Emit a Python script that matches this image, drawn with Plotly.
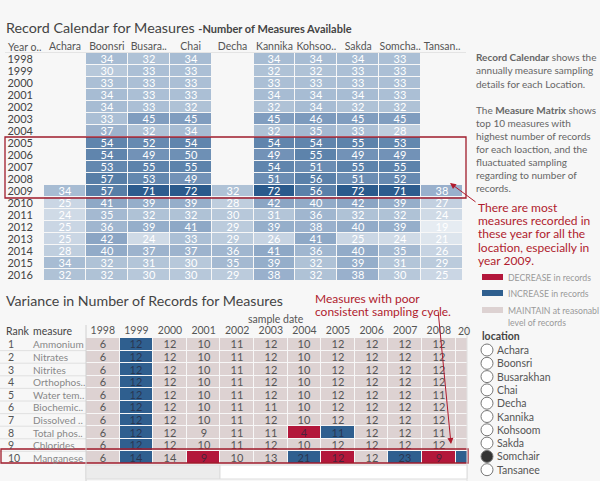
import plotly.graph_objects as go

W, H = 600, 481
def px(x): return x / W
def py(y): return 1 - y / H

FONT = "Lato"

# ---------------- data: record calendar ----------------
locations = ["Achara", "Boonsri", "Busara..", "Chai", "Decha", "Kannika", "Kohsoo..", "Sakda", "Somcha..", "Tansan.."]
years = list(range(1998, 2017))
N = None
calendar = [
    [N, 34, 32, 34, N, 34, 34, 34, 33, N],
    [N, 30, 33, 33, N, 32, 32, 33, 33, N],
    [N, 33, 33, 33, N, 33, 33, 33, 33, N],
    [N, 34, 33, 33, N, 34, 34, 34, 33, N],
    [N, 34, 33, 32, N, 32, 34, 32, 32, N],
    [N, 33, 45, 45, N, 45, 46, 45, 45, N],
    [N, 37, 32, 34, N, 32, 35, 33, 28, N],
    [N, 54, 52, 54, N, 54, 54, 55, 53, N],
    [N, 54, 49, 50, N, 49, 55, 49, 49, N],
    [N, 53, 55, 55, N, 54, 51, 55, 55, N],
    [N, 57, 53, 49, N, 51, 56, 51, 52, N],
    [34, 57, 71, 72, 32, 72, 56, 72, 71, 38],
    [25, 41, 39, 39, 28, 42, 40, 42, 39, 27],
    [24, 35, 32, 32, 30, 31, 36, 32, 32, 24],
    [25, 36, 39, 41, 29, 39, 38, 40, 39, 19],
    [25, 42, 24, 33, 29, 26, 41, 25, 24, 21],
    [28, 40, 37, 37, 36, 41, 36, 40, 35, 26],
    [34, 32, 31, 30, 35, 39, 32, 39, 31, 29],
    [32, 32, 30, 30, 29, 38, 32, 38, 30, 25],
]

# ---------------- data: variance table ----------------
ranks = list(range(1, 11))
measures = ["Ammonium", "Nitrates", "Nitrites", "Orthophos..", "Water tem..",
            "Biochemic..", "Dissolved ..", "Total phos..", "Chlorides", "Manganese"]
sample_years = list(range(1998, 2010))
records = [
    [6, 12, 12, 10, 11, 12, 10, 12, 12, 12, 12, N],
    [6, 12, 12, 10, 11, 12, 10, 12, 12, 12, 12, N],
    [6, 12, 12, 10, 11, 12, 10, 12, 12, 12, 12, N],
    [6, 12, 12, 10, 11, 12, 10, 12, 12, 12, 12, N],
    [6, 12, 12, 10, 11, 12, 10, 12, 12, 12, 11, N],
    [6, 12, 12, 10, 11, 11, 10, 12, 12, 12, 12, N],
    [6, 12, 12, 10, 11, 12, 10, 12, 12, 12, 12, N],
    [6, 12, 12, 9, 11, 11, 4, 11, 12, 12, 11, N],
    [6, 12, 12, 10, 11, 12, 10, 12, 12, 12, 12, N],
    [6, 14, 14, 9, 10, 13, 21, 12, 12, 23, 9, N],
]
# status: 0 maintain, 1 increase, 2 decrease
status = [
    [0, 1, 0, 0, 0, 0, 0, 0, 0, 0, 0, 0],
    [0, 1, 0, 0, 0, 0, 0, 0, 0, 0, 0, 0],
    [0, 1, 0, 0, 0, 0, 0, 0, 0, 0, 0, 0],
    [0, 1, 0, 0, 0, 0, 0, 0, 0, 0, 0, 0],
    [0, 1, 0, 0, 0, 0, 0, 0, 0, 0, 0, 0],
    [0, 1, 0, 0, 0, 0, 0, 0, 0, 0, 0, 0],
    [0, 1, 0, 0, 0, 0, 0, 0, 0, 0, 0, 0],
    [0, 1, 0, 0, 0, 0, 2, 1, 0, 0, 0, 0],
    [0, 1, 0, 0, 0, 0, 0, 0, 0, 0, 0, 0],
    [0, 1, 0, 2, 0, 0, 1, 2, 0, 1, 2, 1],
]
location_options = ["Achara", "Boonsri", "Busarakhan", "Chai", "Decha",
                    "Kannika", "Kohsoom", "Sakda", "Somchair", "Tansanee"]
selected_location = "Somchair"

BLUE, RED, GRAY = "#2f5f8f", "#b3173b", "#ddd2d2"

fig = go.Figure()

# top heatmap
cal_text = [["" if v is None else str(v) for v in row] for row in calendar]
fig.add_trace(go.Heatmap(
    z=calendar, x=list(range(len(locations))), y=years,
    text=cal_text, texttemplate="%{text}",
    textfont=dict(family=FONT, size=11, color="white"),
    colorscale=[[0, "#e6ecf2"], [0.11, "#cbd7e4"], [0.28, "#a8bcd3"],
                [0.49, "#809dbf"], [0.66, "#6085ad"], [1, "#2a5a8c"]],
    zmin=19, zmax=72, showscale=False, xgap=1, ygap=1,
    hoverinfo="skip", xaxis="x", yaxis="y"))

# bottom table: maintain cells
z_m = [[0 if s == 0 else None for s in row] for row in status]
t_m = [["" if (s != 0 or v is None) else str(v) for s, v in zip(srow, vrow)]
       for srow, vrow in zip(status, records)]
fig.add_trace(go.Heatmap(
    z=z_m, x=sample_years, y=ranks, text=t_m, texttemplate="%{text}",
    textfont=dict(family=FONT, size=11, color="#555555"),
    colorscale=[[0, GRAY], [1, GRAY]], zmin=0, zmax=1, showscale=False,
    xgap=1, ygap=1, hoverinfo="skip", xaxis="x2", yaxis="y2"))
# bottom table: changed cells
z_c = [[s if s != 0 else None for s in row] for row in status]
t_c = [["" if (s == 0 or v is None) else str(v) for s, v in zip(srow, vrow)]
       for srow, vrow in zip(status, records)]
fig.add_trace(go.Heatmap(
    z=z_c, x=sample_years, y=ranks, text=t_c, texttemplate="%{text}",
    textfont=dict(family=FONT, size=11, color="rgba(40,40,60,0.75)"),
    colorscale=[[0, BLUE], [0.5, BLUE], [0.5, RED], [1, RED]], zmin=1, zmax=2,
    showscale=False, xgap=1, ygap=1, hoverinfo="skip", xaxis="x2", yaxis="y2"))

annotations = []
shapes = []

def ann(x, y, text, size=10, color="#555", xanchor="left", bold=False, **kw):
    if bold:
        text = "<b>" + text + "</b>"
    annotations.append(dict(x=px(x), y=py(y), xref="paper", yref="paper", text=text,
                            showarrow=False, xanchor=xanchor, yanchor="middle",
                            font=dict(family=FONT, size=size, color=color), **kw))

# titles
ann(4, 27, "Record Calendar for Measures <span style='font-size:11px'><b>-Number of Measures Available</b></span>",
    size=14.3, color="#444")
ann(6, 47, "Year o..", size=10.5, color="#555")
ann(4, 300, "Variance in Number of Records for Measures", size=14.2, color="#444")
ann(276, 319, "sample date", size=10.5, color="#555", xanchor="center")
ann(4, 331, "Rank", size=10.5, color="#444")
ann(31, 331, "measure", size=10.5, color="#444")
ann(456, 331, "20", size=10.5, color="#555")

# rank / measure labels
for r, m in zip(ranks, measures):
    annotations.append(dict(x=px(6), y=r, xref="paper", yref="y2", text=str(r), showarrow=False,
                            xanchor="left", font=dict(family=FONT, size=10.5, color="#555")))
    annotations.append(dict(x=px(31), y=r, xref="paper", yref="y2", text=m, showarrow=False,
                            xanchor="left", font=dict(family=FONT, size=10, color="#888")))
    shapes.append(dict(type="line", xref="paper", yref="y2", x0=0, x1=px(86), y0=r + 0.5, y1=r + 0.5,
                       line=dict(color="#e0e0e0", width=1)))

# right-hand notes
note1 = ["<b>Record Calendar</b> shows the", "annually measure sampling", "details for each Location."]
for i, t in enumerate(note1):
    ann(474, 57 + i * 13.5, t, size=10, color="#666")
note2 = ["The <b>Measure Matrix</b> shows", "top 10 measures with", "highest number of records",
         "for each loaction, and the", "fluactuated sampling", "regarding to number of", "records."]
for i, t in enumerate(note2):
    ann(474, 110 + i * 13, t, size=10, color="#666")
red_note = ["There are most", "measures recorded in", "these year for all the",
            "location, especially in", "year 2009."]
for i, t in enumerate(red_note):
    ann(476, 207 + i * 13.4, t, size=12, color="#b01c2e")
ann(313, 298, "Measures with poor", size=12, color="#b01c2e")
ann(313, 311.5, "consistent sampling cycle.", size=12, color="#b01c2e")

# legend
for y, c, bold, rest in [(277, RED, "DECREASE", " in records"), (293, BLUE, "INCREASE", " in records"),
                         (310, GRAY, "MAINTAIN", " at reasonabl")]:
    shapes.append(dict(type="rect", xref="paper", yref="paper", x0=px(482), x1=px(503),
                       y0=py(y + 3), y1=py(y - 3), fillcolor=c, line=dict(width=0)))
    ann(506, y, bold + rest, size=8.7, color="#999")
ann(506, 322, "level of records", size=8.7, color="#999")

# location radio list
ann(480, 336, "location", size=10.5, color="#444", bold=True)
for i, loc in enumerate(location_options):
    y = 350 + i * 13.3
    filled = loc == selected_location
    shapes.append(dict(type="circle", xref="paper", yref="paper", x0=px(481), x1=px(493),
                       y0=py(y + 6), y1=py(y - 6),
                       fillcolor="#333" if filled else "white", line=dict(color="#777", width=1)))
    ann(495, y, loc, size=10.5, color="#555")

# red highlight boxes
shapes.append(dict(type="rect", xref="paper", yref="paper", x0=px(5), x1=px(466), y0=py(198), y1=py(137),
                   line=dict(color="#a01c2c", width=1.3)))
shapes.append(dict(type="rect", xref="paper", yref="paper", x0=px(1), x1=px(468), y0=py(463), y1=py(449),
                   line=dict(color="#a01c2c", width=1.3)))

# separators / scrollbar
shapes.append(dict(type="line", xref="paper", yref="paper", x0=px(86), x1=px(86), y0=py(481), y1=py(325),
                   line=dict(color="#d0d0d0", width=1)))
shapes.append(dict(type="line", xref="paper", yref="paper", x0=px(467), x1=px(467), y0=py(481), y1=py(325),
                   line=dict(color="#e0e0e0", width=1)))
shapes.append(dict(type="rect", xref="paper", yref="paper", x0=px(86), x1=px(220), y0=py(479), y1=py(465),
                   fillcolor="#ececec", line=dict(color="#dddddd", width=1)))
shapes.append(dict(type="rect", xref="paper", yref="paper", x0=px(220), x1=px(467), y0=py(479), y1=py(465),
                   fillcolor="white", line=dict(color="#dddddd", width=1)))
shapes.append(dict(type="line", xref="paper", yref="paper", x0=px(5), x1=px(466), y0=py(52.5), y1=py(52.5),
                   line=dict(color="#e4e4e4", width=1)))

# arrows (tail offsets in pixels)
annotations.append(dict(x=px(450), y=py(183), ax=27, ay=20, xref="paper", yref="paper",
                        axref="pixel", ayref="pixel", showarrow=True, arrowhead=2, arrowsize=1.2,
                        arrowwidth=1, arrowcolor="#b01c2e", text=""))
annotations.append(dict(x=px(451), y=py(444), ax=-13, ay=-134, xref="paper", yref="paper",
                        axref="pixel", ayref="pixel", showarrow=True, arrowhead=2, arrowsize=1.2,
                        arrowwidth=1, arrowcolor="#b01c2e", text=""))

common = dict(showgrid=False, zeroline=False, ticks="", fixedrange=True, automargin=False)
fig.update_layout(
    width=W, height=H, margin=dict(l=0, r=0, t=0, b=0, autoexpand=False),
    paper_bgcolor="#f7f7f7", plot_bgcolor="rgba(0,0,0,0)",
    showlegend=False, annotations=annotations, shapes=shapes,
    xaxis=dict(domain=[px(44), px(463)], range=[-0.5, 9.5], side="top", tickangle=0,
               tickmode="array", tickvals=list(range(len(locations))), ticktext=locations,
               tickfont=dict(family=FONT, size=10.5, color="#555"), ticklabelstandoff=0, **common),
    yaxis=dict(domain=[py(281), py(53)], range=[2016.5, 1997.5], tickmode="array",
               tickvals=years, ticktext=[str(y) for y in years],
               tickfont=dict(family=FONT, size=11, color="#444"), ticklabelstandoff=10, **common),
    xaxis2=dict(domain=[px(86), px(467)], range=[1997.5, 1997.5 + 381 / 33.6], side="top",
                anchor="y2", tickmode="array", tickvals=sample_years[:-1], tickangle=0,
                ticktext=[str(y) for y in sample_years[:-1]],
                tickfont=dict(family=FONT, size=10.5, color="#555"), ticklabelstandoff=1, **common),
    yaxis2=dict(domain=[py(464), py(338)], range=[10.5, 0.5], anchor="x2",
                showticklabels=False, **common),
)

fig.write_html("out.html", config={"displayModeBar": False},
               post_script="document.body.style.margin='0px';")
